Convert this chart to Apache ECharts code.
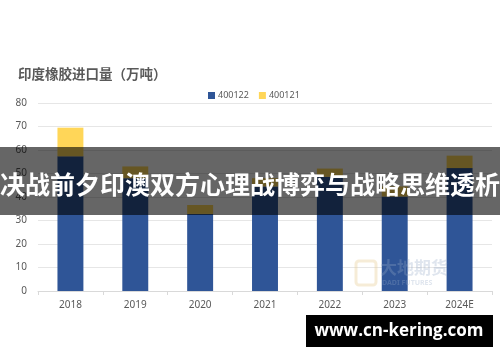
<!DOCTYPE html>
<html><head><meta charset="utf-8">
<script src="https://cdn.jsdelivr.net/npm/echarts@6/dist/echarts.min.js"></script>
<style>html,body{margin:0;padding:0;background:#fff}#c{width:500px;height:362px}</style>
</head><body><div id="c"></div>
<script>
const categories = ['2018','2019','2020','2021','2022','2023','2024E'];
const seriesNames = ['400122','400121'];
const values400122 = [57.3, 48, 32.8, 44.5, 48.6, 40.2, 52.3];
const values400121 = [12.2, 5, 3.8, 3.5, 3.5, 4.3, 5.3];
const yTicks = [0, 10, 20, 30, 40, 50, 60, 70, 80];
const chartTitle = '印度橡胶进口量（万吨）';
const bannerText = '决战前夕印澳双方心理战博弈与战略思维透析';
const siteText = 'www.cn-kering.com';

const chart = echarts.init(document.getElementById('c'), null, {renderer:'canvas'});
const cjk = '"Noto Sans CJK SC", "Noto Sans", sans-serif';
chart.setOption({
  animation: false,
  backgroundColor: '#fff',
  title: {
    text: chartTitle, left: 13, top: 62,
    textStyle: {fontFamily: cjk, fontSize: 13.5, fontWeight: 'bold', color: '#595959'}
  },
  legend: {
    data: seriesNames, top: 86, left: 203, itemWidth: 7, itemHeight: 7, itemGap: 10,
    icon: 'rect',
    textStyle: {fontFamily: '"Noto Sans", sans-serif', fontSize: 9, color: '#595959', padding: [0,0,0,-2]}
  },
  grid: {left: 38, right: 8, top: 103, bottom: 71, containLabel: false},
  xAxis: {
    type: 'category', data: categories, boundaryGap: true,
    axisLine: {lineStyle: {color: '#d9d9d9'}},
    axisTick: {show: true, alignWithLabel: false, length: 4, lineStyle: {color: '#d9d9d9'}},
    axisLabel: {fontFamily: '"Noto Sans", sans-serif', fontSize: 10, color: '#595959', margin: 9}
  },
  yAxis: {
    type: 'value', min: yTicks[0], max: yTicks[yTicks.length-1], interval: 10,
    axisLine: {show: false}, axisTick: {show: false},
    splitLine: {lineStyle: {color: '#e6e6e6'}},
    axisLabel: {fontFamily: '"Noto Sans", sans-serif', fontSize: 10, color: '#595959', margin: 11}
  },
  series: [
    {name: seriesNames[0], type: 'bar', stack: 'a', data: values400122, barWidth: '40%',
     itemStyle: {color: '#2F5597'}},
    {name: seriesNames[1], type: 'bar', stack: 'a', data: values400121, barWidth: '40%',
     itemStyle: {color: '#FFD658'}}
  ],
  graphic: [
    {type: 'rect', x: 356, y: 261, z: 5, shape: {width: 20, height: 24, r: 3},
     style: {fill: 'none', stroke: 'rgba(230,200,140,0.35)', lineWidth: 3}},
    {type: 'text', x: 380, y: 259, z: 5, style: {text: '大地期货', fontFamily: cjk, fontSize: 17, fontWeight: 'bold', fill: 'rgba(150,170,200,0.3)'}},
    {type: 'text', x: 382, y: 279, z: 5, style: {text: 'DADI FUTURES', fontFamily: '"Noto Sans", sans-serif', fontSize: 7, fontWeight: 'bold', fill: 'rgba(150,170,200,0.3)'}},
    {type: 'rect', x: 0, y: 147, z: 100, shape: {width: 500, height: 68}, style: {fill: 'rgba(0,0,0,0.6)'}},
    {type: 'text', x: 250, y: 184, z: 101,
     style: {text: bannerText, fontFamily: cjk, fontSize: 25, fontWeight: 'bold', fill: '#fff', align: 'center', verticalAlign: 'middle'}},
    {type: 'rect', x: 306, y: 315, z: 100, shape: {width: 187, height: 32}, style: {fill: '#000'}},
    {type: 'text', x: 399, y: 331, z: 101,
     style: {text: siteText, fontFamily: '"Open Sans", "Noto Sans", sans-serif', fontSize: 17, fontWeight: 'bold', fill: '#fff', align: 'center', verticalAlign: 'middle'}}
  ]
});
</script></body></html>
